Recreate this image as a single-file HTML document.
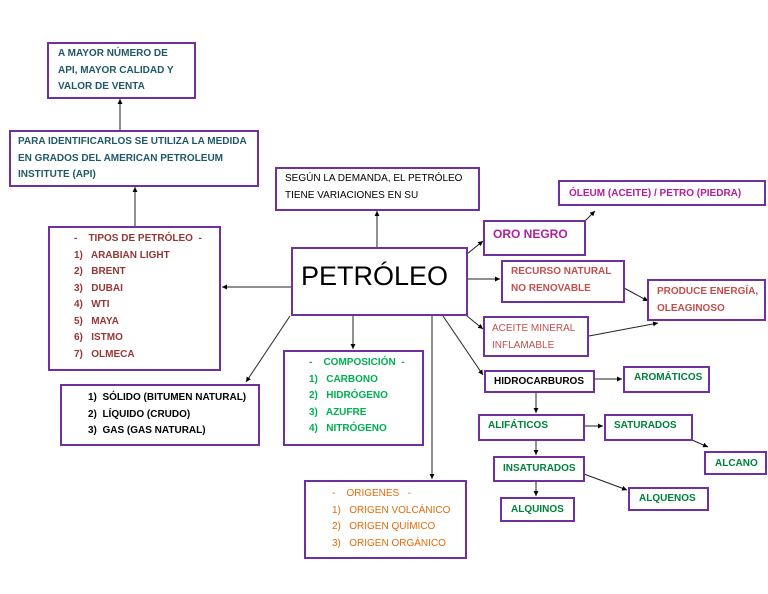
<!DOCTYPE html>
<html><head><meta charset="utf-8"><style>
body{margin:0;width:768px;height:594px;background:#fff;position:relative;overflow:hidden;font-family:"Liberation Sans",sans-serif}
.b{position:absolute;border:2px solid #7030a0;box-sizing:border-box;font-size:10px;font-weight:bold;line-height:16.5px;white-space:nowrap}
svg{position:absolute;left:0;top:0}
</style></head><body>
<svg width="768" height="594"><defs><marker id="a" markerWidth="6" markerHeight="6" refX="5" refY="3" orient="auto"><path d="M0,0.5 L5,3 L0,5.5z" fill="#000"/></marker></defs>
<g stroke="#222" stroke-width="1" fill="none" marker-end="url(#a)">
<line x1="291" y1="287" x2="222" y2="287"/>
<line x1="135" y1="226" x2="135" y2="187"/>
<line x1="120" y1="130" x2="120" y2="99"/>
<line x1="377" y1="247" x2="377" y2="211"/>
<line x1="290" y1="316" x2="246" y2="382"/>
<line x1="353" y1="316" x2="353" y2="349"/>
<line x1="432" y1="316" x2="432" y2="479"/>
<line x1="443" y1="316" x2="483" y2="375"/>
<line x1="467" y1="254" x2="483" y2="241"/>
<line x1="467" y1="279" x2="500" y2="279"/>
<line x1="467" y1="316" x2="483" y2="329"/>
<line x1="585" y1="221" x2="595" y2="211"/>
<line x1="624" y1="288" x2="648" y2="301"/>
<line x1="589" y1="336" x2="658" y2="323"/>
<line x1="594" y1="379" x2="622" y2="379"/>
<line x1="536" y1="393" x2="536" y2="413"/>
<line x1="584" y1="426" x2="603" y2="426"/>
<line x1="692" y1="440" x2="708" y2="447"/>
<line x1="536" y1="440" x2="536" y2="455"/>
<line x1="584" y1="474" x2="627" y2="490"/>
<line x1="536" y1="481" x2="536" y2="496"/>
</g></svg>

<div class="b" style="left:47px;top:42px;width:149px;height:57px;color:#215868;padding:2px 0 0 9px">A MAYOR NÚMERO DE<br>API, MAYOR CALIDAD Y<br>VALOR DE VENTA</div>
<div class="b" style="left:9px;top:130px;width:250px;height:57px;color:#215868;padding:2px 0 0 7px">PARA IDENTIFICARLOS SE UTILIZA LA MEDIDA<br>EN GRADOS DEL AMERICAN PETROLEUM<br>INSTITUTE (API)</div>
<div class="b" style="left:275px;top:167px;width:205px;height:44px;font-weight:normal;color:#000;padding:2px 0 0 8px;overflow:hidden">SEGÚN LA DEMANDA, EL PETRÓLEO<br>TIENE VARIACIONES EN SU</div>
<div class="b" style="left:558px;top:180px;width:208px;height:26px;color:#b0209a;padding:4px 0 0 9px">ÓLEUM (ACEITE) / PETRO (PIEDRA)</div>
<div class="b" style="left:483px;top:220px;width:103px;height:36px;color:#b0209a;font-size:12px;padding:4px 0 0 8px">ORO NEGRO</div>
<div class="b" style="left:291px;top:247px;width:177px;height:69px;font-weight:normal;font-size:27px;line-height:32px;color:#000;padding:11px 0 0 8px">PETRÓLEO</div>
<div class="b" style="left:501px;top:260px;width:124px;height:43px;color:#c0504d;padding:2px 0 0 8px">RECURSO NATURAL<br>NO RENOVABLE</div>
<div class="b" style="left:647px;top:279px;width:119px;height:42px;color:#c0504d;padding:3px 0 0 8px">PRODUCE ENERGÍA,<br>OLEAGINOSO</div>
<div class="b" style="left:483px;top:316px;width:106px;height:41px;font-weight:normal;color:#c0504d;padding:3px 0 0 7px">ACEITE MINERAL<br>INFLAMABLE</div>
<div class="b" style="left:48px;top:226px;width:173px;height:145px;color:#953735;padding:3px 0 0 24px">-&nbsp;&nbsp;&nbsp; TIPOS DE PETRÓLEO&nbsp; -<br>1)&nbsp;&nbsp; ARABIAN LIGHT<br>2)&nbsp;&nbsp; BRENT<br>3)&nbsp;&nbsp; DUBAI<br>4)&nbsp;&nbsp; WTI<br>5)&nbsp;&nbsp; MAYA<br>6)&nbsp;&nbsp; ISTMO<br>7)&nbsp;&nbsp; OLMECA</div>
<div class="b" style="left:283px;top:350px;width:141px;height:96px;color:#00b050;padding:3px 0 0 24px">-&nbsp;&nbsp;&nbsp; COMPOSICIÓN&nbsp; -<br>1)&nbsp;&nbsp; CARBONO<br>2)&nbsp;&nbsp; HIDRÓGENO<br>3)&nbsp;&nbsp; AZUFRE<br>4)&nbsp;&nbsp; NITRÓGENO</div>
<div class="b" style="left:60px;top:384px;width:200px;height:62px;color:#000;padding:4px 0 0 26px">1)&nbsp; SÓLIDO (BITUMEN NATURAL)<br>2)&nbsp; LÍQUIDO (CRUDO)<br>3)&nbsp; GAS (GAS NATURAL)</div>
<div class="b" style="left:304px;top:480px;width:163px;height:79px;font-weight:normal;color:#e36c09;padding:4px 0 0 26px">-&nbsp;&nbsp;&nbsp; ORIGENES&nbsp;&nbsp; -<br>1)&nbsp;&nbsp; ORIGEN VOLCÁNICO<br>2)&nbsp;&nbsp; ORIGEN QUÍMICO<br>3)&nbsp;&nbsp; ORIGEN ORGÁNICO</div>
<div class="b" style="left:484px;top:370px;width:111px;height:23px;color:#000;padding:2px 0 0 8px">HIDROCARBUROS</div>
<div class="b" style="left:623px;top:366px;width:87px;height:27px;color:#00813b;padding:2px 0 0 9px">AROMÁTICOS</div>
<div class="b" style="left:478px;top:414px;width:107px;height:27px;color:#00813b;padding:2px 0 0 8px">ALIFÁTICOS</div>
<div class="b" style="left:604px;top:414px;width:89px;height:27px;color:#00813b;padding:2px 0 0 8px">SATURADOS</div>
<div class="b" style="left:704px;top:451px;width:63px;height:24px;color:#00813b;padding:3px 0 0 9px">ALCANO</div>
<div class="b" style="left:493px;top:456px;width:92px;height:26px;color:#00813b;padding:3px 0 0 8px">INSATURADOS</div>
<div class="b" style="left:500px;top:497px;width:75px;height:25px;color:#00813b;padding:3px 0 0 9px">ALQUINOS</div>
<div class="b" style="left:628px;top:487px;width:81px;height:24px;color:#00813b;padding:2px 0 0 9px">ALQUENOS</div>
</body></html>
